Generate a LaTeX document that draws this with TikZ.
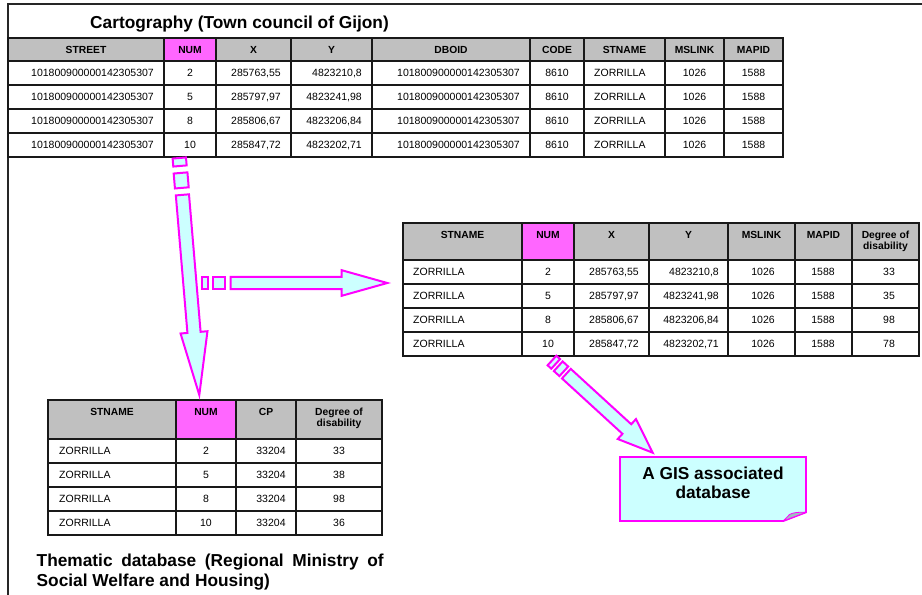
\documentclass[tikz,border=0pt]{standalone}
\usepackage{fontspec}
\setmainfont{Liberation Sans}
\usetikzlibrary{calc}

\definecolor{hdrgray}{HTML}{C0C0C0}
\definecolor{numpink}{HTML}{FF66FF}
\definecolor{magline}{HTML}{FF00FF}
\definecolor{cyanfill}{HTML}{CCFFFF}
\definecolor{foldgray}{HTML}{9DBFBF}

\tikzset{
  framerule/.style={line width=1.8pt, black!85},
  gridline/.style={line width=1.5pt, black!90},
  tableframe/.style={line width=2.2pt, black!90},
  hdr/.style={font=\fontsize{10.3}{11.5}\selectfont\bfseries, inner sep=0pt, anchor=base},
  dat/.style={font=\fontsize{10.5}{12}\selectfont, inner sep=0pt, anchor=base},
  datl/.style={dat, anchor=base west},
  datr/.style={dat, anchor=base east},
  bigtext/.style={font=\fontsize{17.3}{20}\selectfont\bfseries, inner sep=0pt},
  blockarrow/.style={draw=magline, fill=cyanfill, line width=2pt, line join=miter},
  notebox/.style={draw=magline, fill=cyanfill, line width=1.8pt, line join=miter},
  notefold/.style={draw=magline, fill=foldgray, line width=0.8pt, line join=round}
}

% one stripe of a striped block arrow: start, tip, from, to, half width
\newcommand\arrowstripe[5]{%
  \path ($(#1)!#3!(#2)$) coordinate (sa) ($(#1)!#4!(#2)$) coordinate (sb);
  \filldraw[blockarrow] ($(sa)!#5!90:(#2)$) -- ($(sb)!#5!90:(#2)$)
    -- ($(sb)!#5!-90:(#2)$) -- ($(sa)!#5!-90:(#2)$) -- cycle;
}
% shaft and head: start, tip, shaft from, head base, shaft half width, head half width
\newcommand\arrowbody[6]{%
  \path ($(#1)!#3!(#2)$) coordinate (sa) ($(#1)!#4!(#2)$) coordinate (sb);
  \filldraw[blockarrow] ($(sa)!#5!90:(#2)$) -- ($(sb)!#5!90:(#2)$)
    -- ($(sb)!#6!90:(#2)$) -- (#2) -- ($(sb)!#6!-90:(#2)$)
    -- ($(sb)!#5!-90:(#2)$) -- ($(sa)!#5!-90:(#2)$) -- cycle;
}

% rows of the cartography table: tag, baseline, num, x, y
\newcommand\toprow[5]{%
  \node[datr] (ta#1a) at (154,#2) {101800900000142305307};
  \node[dat]  (ta#1b) at (190,#2) {#3};
  \node[datr] (ta#1c) at (281,#2) {#4};
  \node[datr] (ta#1d) at (362,#2) {#5};
  \node[datr] (ta#1e) at (520,#2) {101800900000142305307};
  \node[dat]  (ta#1f) at (557,#2) {8610};
  \node[datl] (ta#1g) at (594,#2) {ZORRILLA};
  \node[dat]  (ta#1h) at (694.5,#2) {1026};
  \node[dat]  (ta#1i) at (753.5,#2) {1588};
}
% rows of the GIS table: tag, baseline, num, x, y, degree
\newcommand\midrow[6]{%
  \node[datl] (tb#1a) at (413,#2) {ZORRILLA};
  \node[dat]  (tb#1b) at (548,#2) {#3};
  \node[datr] (tb#1c) at (639,#2) {#4};
  \node[datr] (tb#1d) at (719,#2) {#5};
  \node[dat]  (tb#1e) at (763,#2) {1026};
  \node[dat]  (tb#1f) at (823,#2) {1588};
  \node[dat]  (tb#1g) at (889,#2) {#6};
}
% rows of the thematic table: tag, baseline, num, degree
\newcommand\lowrow[4]{%
  \node[datl] (tc#1a) at (59,#2) {ZORRILLA};
  \node[dat]  (tc#1b) at (206,#2) {#3};
  \node[dat]  (tc#1c) at (271,#2) {33204};
  \node[dat]  (tc#1d) at (339,#2) {#4};
}

\begin{document}
\begin{tikzpicture}[x=1pt,y=-1pt]
\useasboundingbox (0,0) rectangle (922,595);
\fill[white] (0,0) rectangle (922,595);

% page frame
\draw[framerule] (8,595) -- (8,4) -- (922,4);

% ---------- cartography table ----------
\node[bigtext, anchor=base] (cartotitle) at (239.5,28.3) {Cartography (Town council of Gijon)};
\fill[hdrgray] (8,38) rectangle (783,61);
\fill[numpink] (164,38) rectangle (216,61);
\foreach \y in {61,85,109,133} \draw[gridline] (8,\y) -- (783,\y);
\foreach \x in {164,216,291,372,530,584,665,724} \draw[gridline] (\x,38) -- (\x,157);
\draw[tableframe] (8,38) rectangle (783,157);
\foreach \cx/\txt [count=\i] in {86/STREET,190/NUM,253.5/X,331.5/Y,451/DBOID,557/CODE,624.5/STNAME,694.5/MSLINK,753.5/MAPID}
  \node[hdr] (tah\i) at (\cx,53.2) {\txt};
\toprow{1}{76.8}{2}{285763,55}{4823210,8}
\toprow{2}{100.8}{5}{285797,97}{4823241,98}
\toprow{3}{124.8}{8}{285806,67}{4823206,84}
\toprow{4}{148.8}{10}{285847,72}{4823202,71}

% ---------- GIS associated table ----------
\fill[hdrgray] (403,223) rectangle (919,260);
\fill[numpink] (522,223) rectangle (574,260);
\foreach \y in {260,284,308,332} \draw[gridline] (403,\y) -- (919,\y);
\foreach \x in {522,574,649,728,795,852} \draw[gridline] (\x,223) -- (\x,356);
\draw[tableframe] (403,223) rectangle (919,356);
\foreach \cx/\txt [count=\i] in {462.5/STNAME,548/NUM,611.5/X,688.5/Y,761.5/MSLINK,823.5/MAPID,885.5/Degree of}
  \node[hdr] (tbh\i) at (\cx,238.7) {\txt};
\node[hdr] (tbh8) at (885.5,249.6) {disability};
\midrow{1}{275.8}{2}{285763,55}{4823210,8}{33}
\midrow{2}{299.8}{5}{285797,97}{4823241,98}{35}
\midrow{3}{323.8}{8}{285806,67}{4823206,84}{98}
\midrow{4}{347.8}{10}{285847,72}{4823202,71}{78}

% ---------- thematic table ----------
\fill[hdrgray] (48,400) rectangle (382,439);
\fill[numpink] (176,400) rectangle (236,439);
\foreach \y in {439,463,487,511} \draw[gridline] (48,\y) -- (382,\y);
\foreach \x in {176,236,296} \draw[gridline] (\x,400) -- (\x,535);
\draw[tableframe] (48,400) rectangle (382,535);
\foreach \cx/\txt [count=\i] in {112/STNAME,206/NUM,266/CP,339/Degree of}
  \node[hdr] (tch\i) at (\cx,415.4) {\txt};
\node[hdr] (tch5) at (339,426.7) {disability};
\lowrow{1}{454.8}{2}{33}
\lowrow{2}{478.8}{5}{38}
\lowrow{3}{502.8}{8}{98}
\lowrow{4}{526.8}{10}{36}

\node[bigtext, anchor=base west] (themeA) at (36.5,566.7)
  {\makebox[347pt][s]{Thematic database (Regional Ministry of}};
\node[bigtext, anchor=base west] (themeB) at (36.5,586.7) {Social Welfare and Housing)};

% ---------- block arrows ----------
\coordinate (vS) at (179.3,158);
\coordinate (vT) at (199.3,395);
\coordinate (hS) at (201.7,283);
\coordinate (hT) at (387.3,283);
\coordinate (dS) at (552,360.5);
\coordinate (dT) at (652.7,452.7);

\arrowstripe{vS}{vT}{0pt}{8pt}{6.7pt}
\arrowstripe{vS}{vT}{15pt}{30pt}{6.9pt}
\arrowbody{vS}{vT}{37pt}{175pt}{6.6pt}{13.5pt}

\arrowstripe{hS}{hT}{0pt}{6pt}{6.2pt}
\arrowstripe{hS}{hT}{11.6pt}{23.6pt}{6.2pt}
\arrowbody{hS}{hT}{29pt}{140pt}{6.2pt}{12.8pt}

\arrowstripe{dS}{dT}{0pt}{5pt}{6.5pt}
\arrowstripe{dS}{dT}{8.5pt}{16pt}{6.5pt}
\arrowbody{dS}{dT}{19.5pt}{101.5pt}{6.5pt}{13.5pt}

% ---------- note with folded corner ----------
\filldraw[notebox] (620,457) -- (806,457) -- (806,512.3) -- (783.3,521) -- (620,521) -- cycle;
\filldraw[notefold] (806,512.3) .. controls (798,512) and (793,512.5) .. (789.5,514.5) -- (783.3,521) -- cycle;
\node[bigtext, anchor=base] (noteA) at (713,479.3) {A GIS associated};
\node[bigtext, anchor=base] (noteB) at (713,498.3) {database};
\end{tikzpicture}
\end{document}
